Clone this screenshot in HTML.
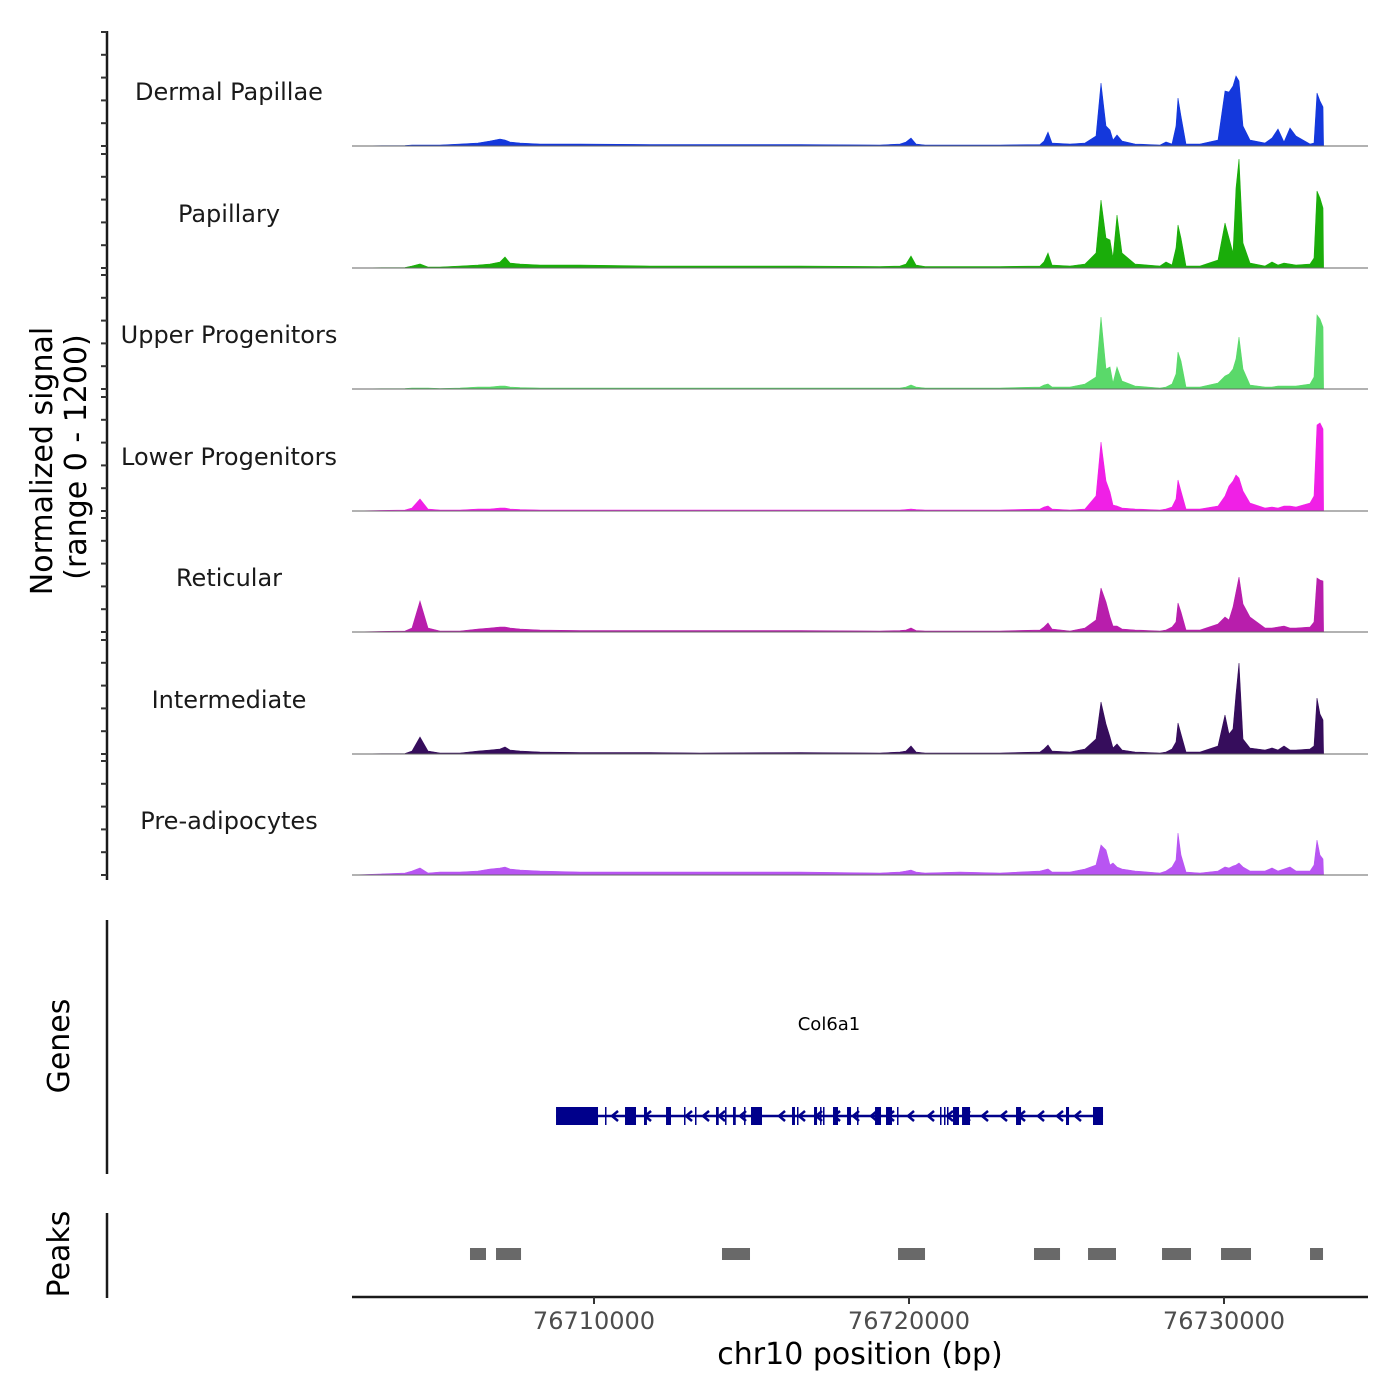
<!DOCTYPE html>
<html><head><meta charset="utf-8">
<style>
html,body{margin:0;padding:0;background:#fff;}
svg{display:block;font-family:"DejaVu Sans","Liberation Sans",sans-serif;}
</style></head>
<body>
<svg id="chart" width="1400" height="1400" viewBox="0 0 1400 1400" xmlns="http://www.w3.org/2000/svg">
  <g id="tracks"></g>
  <line x1="107" y1="31" x2="107" y2="880" stroke="#1a1a1a" stroke-width="2.5"/>
  <g id="yticks"></g>
  <text transform="translate(52,461) rotate(-90)" text-anchor="middle" font-size="30" fill="#000">Normalized signal</text>
  <text transform="translate(86,457) rotate(-90)" text-anchor="middle" font-size="30" fill="#000">(range 0 - 1200)</text>

  <line x1="107" y1="920" x2="107" y2="1174" stroke="#1a1a1a" stroke-width="2.5"/>
  <text transform="translate(69,1046) rotate(-90)" text-anchor="middle" font-size="30" fill="#000">Genes</text>
  <text x="829" y="1030" text-anchor="middle" font-size="18" fill="#000">Col6a1</text>
  <g id="gene"></g>

  <line x1="107" y1="1213" x2="107" y2="1298" stroke="#1a1a1a" stroke-width="2.5"/>
  <text transform="translate(69,1254) rotate(-90)" text-anchor="middle" font-size="30" fill="#000">Peaks</text>
  <g id="peaks"></g>

  <line x1="352" y1="1297" x2="1368" y2="1297" stroke="#1a1a1a" stroke-width="2.5"/>
  <g id="xticks"></g>
  <text x="860" y="1364" text-anchor="middle" font-size="30" fill="#000">chr10 position (bp)</text>
</svg>
<script>
const xTicks = [76710000, 76720000, 76730000];
const xDomain = [76702317, 76734571];
const trackNames = ["Dermal Papillae","Papillary","Upper Progenitors","Lower Progenitors","Reticular","Intermediate","Pre-adipocytes"];
const trackColors = ["#1438dc","#1aad0a","#5ad96a","#f020e6","#b81eac","#360d5c","#b855f2"];
const positions = [76702317,76704000,76704222,76704476,76704730,76705111,76705746,76706317,76706698,76707016,76707175,76707333,76707651,76708286,76709556,76711778,76713365,76716540,76719079,76719714,76719905,76720063,76720222,76720508,76721619,76722889,76724159,76724286,76724413,76724540,76725111,76725587,76725937,76726095,76726254,76726381,76726476,76726603,76726762,76727175,76727968,76728159,76728349,76728476,76728540,76728635,76728794,76729238,76729810,76730032,76730159,76730286,76730381,76730476,76730603,76730825,76731302,76731524,76731714,76731905,76732095,76732286,76732730,76732857,76732952,76733048,76733143,76733160];
const dermalValues = [0,5,10,10,10,10,20,30,50,70,60,40,30,20,20,15,15,15,10,20,40,80,20,10,10,10,15,50,140,30,20,30,100,630,200,160,60,110,50,20,10,40,20,200,480,300,20,20,60,550,540,600,700,650,200,60,30,80,170,40,180,100,20,30,530,450,390,0];
const papillaryValues = [0,5,20,40,10,10,20,30,40,60,110,50,40,30,30,20,20,20,15,20,40,120,30,15,15,15,20,60,150,30,20,40,150,680,300,280,100,530,150,40,20,60,30,200,430,300,20,20,80,450,300,150,800,1090,250,50,20,60,30,50,40,30,40,100,770,700,600,0];
const upperValues = [0,5,10,10,10,5,10,20,20,30,30,20,15,10,10,10,10,10,10,10,20,40,20,10,10,10,20,40,50,20,20,50,120,720,200,220,60,220,80,30,10,20,50,150,370,280,20,20,60,130,150,200,300,520,200,40,20,20,30,30,30,30,50,120,740,700,620,0];
const lowerValues = [0,10,30,120,20,10,10,20,20,30,30,20,15,10,10,10,10,10,10,10,15,20,15,10,10,10,20,40,50,20,10,20,150,690,300,190,60,50,30,20,10,20,40,120,310,200,20,20,50,150,250,300,360,330,200,80,30,40,30,50,50,40,80,150,860,880,820,0];
const reticularValues = [0,10,40,310,40,10,10,30,40,50,50,40,30,20,15,15,15,15,10,15,20,40,15,10,10,10,20,50,90,30,10,40,120,440,300,150,60,60,30,20,10,20,50,100,290,200,20,20,80,150,120,250,400,550,280,150,40,40,50,60,40,40,50,100,540,520,510,0];
const intermediateValues = [0,5,30,170,30,10,10,30,40,50,70,40,30,20,15,15,10,15,10,20,30,80,20,10,10,10,20,50,90,30,20,50,150,520,300,170,60,100,40,20,10,20,50,120,310,200,20,20,80,390,200,250,600,910,150,60,40,60,40,80,40,40,50,80,560,400,340,0];
const preadipoValues = [0,20,40,70,20,30,30,40,60,70,80,60,50,40,30,30,30,30,20,30,40,50,30,20,30,20,40,50,60,30,30,60,100,300,250,100,120,80,60,40,20,40,80,150,420,200,30,20,40,80,70,90,100,120,80,40,40,70,40,60,80,40,40,100,350,200,160,0];
const trackValues = [dermalValues,papillaryValues,upperValues,lowerValues,reticularValues,intermediateValues,preadipoValues];
const exonStarts = [76708794,76710349,76710984,76711587,76712286,76712857,76713206,76713873,76714159,76714413,76714762,76714984,76716286,76716444,76716984,76717175,76717270,76717587,76718032,76718349,76718921,76719270,76719619,76720984,76721111,76721206,76721397,76721683,76723397,76724984,76725841];
const exonEnds   = [76710127,76710380,76711333,76711680,76712444,76712890,76713240,76713960,76714190,76714500,76714795,76715333,76716380,76716475,76717080,76717205,76717300,76717746,76718159,76718380,76719111,76719460,76719650,76721015,76721140,76721237,76721587,76721937,76723556,76725080,76726159];
const arrowPositions = [76710635,76711683,76712984,76713524,76714032,76714698,76715937,76716571,76717111,76717683,76718286,76718857,76719397,76720032,76720667,76721270,76721810,76722381,76722984,76723556,76724159,76724762,76725333];
const geneStart = 76708794, geneEnd = 76726159;
const peakStarts = [76706063,76706889,76714063,76719651,76723968,76725683,76728032,76729905,76732730];
const peakEnds   = [76706571,76707683,76714952,76720508,76724794,76726571,76728952,76730857,76733143];

const NS="http://www.w3.org/2000/svg";
const X0=352,X1=1368;
function xScale(bp){return X0+(bp-xDomain[0])/(xDomain[1]-xDomain[0])*(X1-X0);}
const baselines=[146,268,389,511,632,754,875];
const pxPerUnit=0.1;
function yScale(v,t){return baselines[t]-v*pxPerUnit;}
function mk(tag,attrs,parent){const e=document.createElementNS(NS,tag);for(const k in attrs)e.setAttribute(k,attrs[k]);parent.appendChild(e);return e;}

const tracks=document.getElementById('tracks');
trackValues.forEach((vals,t)=>{
  const g=mk('g',{},tracks);
  
  
  const lab=mk('text',{x:229,y:baselines[t]-46,'text-anchor':'middle','font-size':24,fill:'#1a1a1a'},g);
  lab.textContent=trackNames[t];
  
  
  let d='M'+xScale(positions[0]).toFixed(1)+','+baselines[t];
  positions.forEach((p,i)=>{d+=' L'+xScale(p).toFixed(1)+','+yScale(vals[i],t).toFixed(1);});
  d+=' L'+xScale(positions[positions.length-1]).toFixed(1)+','+baselines[t]+' Z';
  const area=mk('path',{d:d,fill:trackColors[t],stroke:trackColors[t],'stroke-width':0.6},g);
  
  
  const bl=mk('line',{x1:X0,x2:X1,y1:baselines[t],y2:baselines[t],stroke:'#666','stroke-width':1},g);
  
  
});

const yt=document.getElementById('yticks');
baselines.forEach(b=>{
  for(let k=0;k<6;k++){
    const y=b-k*22.8;
    const tk=mk('line',{x1:101,x2:107,y1:y,y2:y,stroke:'#333','stroke-width':2},yt);
    
    
  }
});

const gene=document.getElementById('gene');
const gy=1116;
const gl=mk('line',{x1:xScale(geneStart),x2:xScale(geneEnd),y1:gy,y2:gy,stroke:'#00008b','stroke-width':2.5},gene);


exonStarts.forEach((s,i)=>{
  const x=xScale(s),w=Math.max(1.5,xScale(exonEnds[i])-x);
  const r=mk('rect',{x:x,y:gy-9,width:w,height:18,fill:'#00008b'},gene);
  
  
});
arrowPositions.forEach(p=>{
  const x=xScale(p);
  const a=mk('polyline',{points:(x+4)+','+(gy-5)+' '+(x-2)+','+gy+' '+(x+4)+','+(gy+5),fill:'none',stroke:'#00008b','stroke-width':2.5},gene);
  
  
});

const pk=document.getElementById('peaks');
peakStarts.forEach((s,i)=>{
  const x=xScale(s);
  const r=mk('rect',{x:x,y:1248,width:xScale(peakEnds[i])-x,height:12,fill:'#696969'},pk);
  
  
});

const xt=document.getElementById('xticks');
xTicks.forEach(v=>{
  const x=xScale(v);
  const l=mk('line',{x1:x,x2:x,y1:1297,y2:1304,stroke:'#333','stroke-width':2},xt);
  
  
  const t=mk('text',{x:x,y:1329,'text-anchor':'middle','font-size':24,fill:'#4d4d4d'},xt);
  t.textContent=v;
  
  
});
</script>
</body></html>
